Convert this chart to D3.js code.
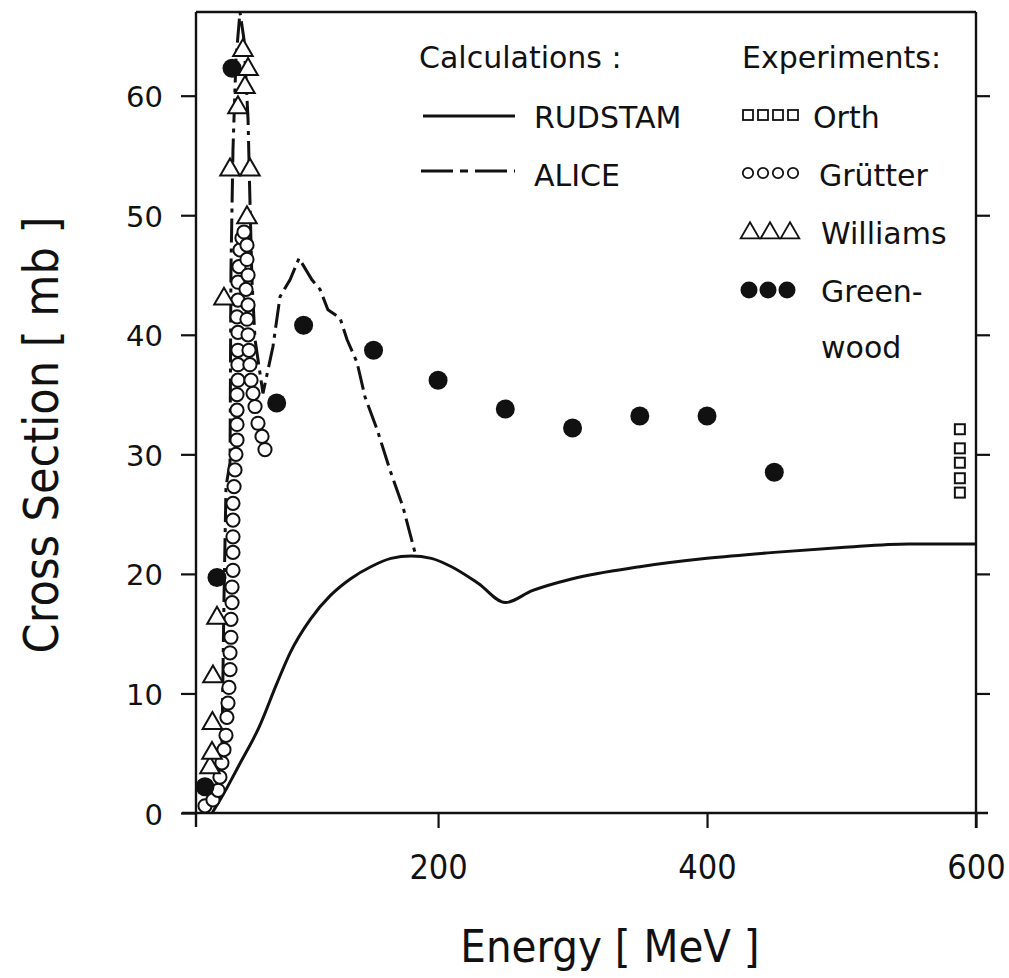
<!DOCTYPE html>
<html>
<head>
<meta charset="utf-8">
<script src="https://cdnjs.cloudflare.com/ajax/libs/d3/7.8.5/d3.min.js"></script>
<style>
  html, body { margin: 0; padding: 0; background: #fff; }
  text { fill: #111; }
</style>
</head>
<body>
<div id="chart"></div>
<script>
'use strict';

// calculations [energy MeV, cross section mb]
var rudstam = [[32, 0], [40, 1.5], [52, 4.0], [67, 7.2], [80, 10.8], [90, 13.4], [105, 16.2],
	[120, 18.2], [135, 19.6], [150, 20.6], [165, 21.3], [180, 21.5], [195, 21.3], [210, 20.6],
	[230, 19.2], [250, 17.6], [270, 18.6], [300, 19.6], [350, 20.6], [400, 21.3], [450, 21.8],
	[500, 22.2], [550, 22.5], [600, 22.5]];

var alice = [[32, 1.0], [36.4, 2.8], [39.3, 5.5], [40.8, 17.8], [42.3, 27.3], [45.3, 29.3],
	[46.0, 45.4], [47.5, 55.5], [49.7, 63.0], [52.7, 67.0], [55.7, 64.7], [58.7, 58.0],
	[60.1, 51.3], [61.6, 44.6], [63.9, 39.6], [69.8, 35.1], [77.2, 39.0], [82.5, 43.2],
	[89.9, 44.6], [96.6, 46.4], [106.2, 44.6], [112.2, 43.8], [118.1, 42.1], [127.1, 41.4],
	[132.3, 39.6], [139.7, 37.7], [145.7, 34.8], [154.6, 32.1], [164.2, 28.7], [173.9, 25.6],
	[182.8, 21.8]];

// experiments
var orth = [[588, 32.1], [588, 30.5], [588, 29.3], [588, 28.0], [588, 26.8]];

var grutter = [[26.7, 0.6], [32.6, 1.1], [36.4, 1.9], [37.8, 3.0], [39.3, 4.2], [40.8, 5.3],
	[42.3, 6.5], [43.0, 8.0], [43.8, 9.2], [44.5, 10.5], [45.3, 12.0], [45.3, 13.4],
	[46.0, 14.7], [46.0, 16.2], [46.8, 17.6], [46.8, 18.9], [47.5, 20.3], [47.5, 21.8],
	[47.5, 23.1], [47.5, 24.5], [47.5, 25.9], [48.3, 27.3], [49.0, 28.7], [49.7, 30.0],
	[50.5, 31.2], [50.5, 32.5], [50.5, 33.7], [50.5, 35.0], [51.2, 36.2], [51.2, 37.5],
	[51.2, 38.7], [51.2, 40.2], [50.5, 41.5], [51.2, 42.9], [51.2, 44.4], [52.0, 45.7],
	[52.7, 47.1], [54.2, 48.1], [55.7, 48.6], [57.9, 47.5], [57.9, 46.3], [58.7, 45.0],
	[57.2, 43.8], [58.7, 42.5], [57.9, 41.3], [58.7, 40.0], [59.4, 38.7], [60.1, 37.5],
	[60.9, 36.2], [62.4, 35.1], [63.9, 34.0], [66.1, 32.6], [69.1, 31.5], [71.3, 30.4]];

var williams = [[30.4, 3.8], [31.9, 5.0], [32.2, 7.5], [32.6, 11.4], [35.6, 16.3],
	[40.8, 43.0], [45.3, 53.8], [60.1, 53.8], [57.9, 49.8], [51.2, 59.0], [56.4, 60.7],
	[58.7, 62.2], [54.9, 63.8]];

var greenwood = [[26.7, 2.2], [35.6, 19.7], [46.8, 62.3], [80, 34.3], [100, 40.8], [152, 38.7],
	[200, 36.2], [250, 33.8], [300, 32.2], [350, 33.2], [400, 33.2], [450, 28.5]];

var yTicks = [0, 10, 20, 30, 40, 50, 60];
var xTicks = [200, 400, 600];

var width = 1009, height = 978;
var narrow = '"DejaVu Sans Condensed", "Liberation Sans Narrow", sans-serif';
var plain = '"DejaVu Sans", sans-serif';

var svg = d3.select('#chart')
	.append('svg')
	.attr('width', width)
	.attr('height', height)
	.style('display', 'block');

svg.append('rect').attr('width', width).attr('height', height).attr('fill', '#fff');

var x = d3.scaleLinear().domain([20, 600]).range([196, 976]);
var y = d3.scaleLinear().domain([0, 67]).range([813, 12]);

// axes
var left = svg.append('g')
	.attr('transform', 'translate(196,0)')
	.call(d3.axisLeft(y).tickValues(yTicks).tickSize(15).tickSizeOuter(0).tickPadding(18));
left.select('.domain').remove();
left.selectAll('line').attr('stroke', '#111').attr('stroke-width', 2.2);
left.selectAll('text')
	.attr('font-family', plain)
	.attr('font-size', 29)
	.attr('dy', '0.38em')
	.style('fill', '#111');

var right = svg.append('g')
	.attr('transform', 'translate(976,0)')
	.call(d3.axisRight(y).tickValues(yTicks.slice(1)).tickSize(14).tickFormat(''));
right.select('.domain').remove();
right.selectAll('line').attr('stroke', '#111').attr('stroke-width', 2.2);

var bottom = svg.append('g')
	.attr('transform', 'translate(0,813)')
	.call(d3.axisBottom(x).tickValues(xTicks).tickSize(15).tickSizeOuter(0).tickPadding(27));
bottom.select('.domain').remove();
bottom.selectAll('line').attr('stroke', '#111').attr('stroke-width', 2.2);
bottom.selectAll('text')
	.attr('font-family', narrow)
	.attr('font-size', 34)
	.style('fill', '#111');

// frame
var frame = svg.append('g').attr('stroke', '#111').attr('stroke-width', 2.4).attr('fill', 'none');
frame.append('line').attr('x1', 196).attr('x2', 196).attr('y1', y(67)).attr('y2', 827);
frame.append('line').attr('x1', 976).attr('x2', 976).attr('y1', y(67)).attr('y2', 828);
frame.append('line').attr('x1', 182).attr('x2', 988).attr('y1', y(0)).attr('y2', y(0));
frame.append('line').attr('x1', 196).attr('x2', 976).attr('y1', y(67)).attr('y2', y(67));

// axis titles
svg.append('text')
	.attr('transform', 'translate(58,435) rotate(-90)')
	.attr('text-anchor', 'middle')
	.attr('font-family', narrow)
	.attr('font-size', 48)
	.text('Cross Section [ mb ]');

svg.append('text')
	.attr('x', 610)
	.attr('y', 962)
	.attr('text-anchor', 'middle')
	.attr('font-family', narrow)
	.attr('font-size', 45)
	.text('Energy [ MeV ]');

// curves
var line = d3.line()
	.x(function (d) { return x(d[0]); })
	.y(function (d) { return y(d[1]); });

svg.append('path')
	.datum(rudstam)
	.attr('d', line.curve(d3.curveMonotoneX))
	.attr('fill', 'none')
	.attr('stroke', '#111')
	.attr('stroke-width', 3);

svg.append('path')
	.datum(alice)
	.attr('d', d3.line().x(function (d) { return x(d[0]); }).y(function (d) { return y(d[1]); }))
	.attr('fill', 'none')
	.attr('stroke', '#111')
	.attr('stroke-width', 3)
	.attr('stroke-dasharray', '24,6,4,6');

// markers
svg.selectAll('rect.orth')
	.data(orth)
	.enter()
	.append('rect')
	.attr('class', 'orth')
	.attr('x', function (d) { return x(d[0]) - 5; })
	.attr('y', function (d) { return y(d[1]) - 5; })
	.attr('width', 10)
	.attr('height', 10)
	.attr('fill', '#fff')
	.attr('stroke', '#111')
	.attr('stroke-width', 2);

svg.selectAll('circle.grutter')
	.data(grutter)
	.enter()
	.append('circle')
	.attr('class', 'grutter')
	.attr('cx', function (d) { return x(d[0]); })
	.attr('cy', function (d) { return y(d[1]); })
	.attr('r', 6.6)
	.attr('fill', '#fff')
	.attr('stroke', '#111')
	.attr('stroke-width', 2);

var tri = d3.symbol().type(d3.symbolTriangle).size(165);

svg.selectAll('path.williams')
	.data(williams)
	.enter()
	.append('path')
	.attr('class', 'williams')
	.attr('d', tri)
	.attr('transform', function (d) { return 'translate(' + x(d[0]) + ',' + y(d[1]) + ')'; })
	.attr('fill', '#fff')
	.attr('stroke', '#111')
	.attr('stroke-width', 2);

svg.selectAll('circle.greenwood')
	.data(greenwood)
	.enter()
	.append('circle')
	.attr('class', 'greenwood')
	.attr('cx', function (d) { return x(d[0]); })
	.attr('cy', function (d) { return y(d[1]); })
	.attr('r', 9.5)
	.attr('fill', '#111');

// legend
var legend = svg.append('g')
	.attr('font-family', plain)
	.attr('font-size', 30);

legend.append('text').attr('x', 419).attr('y', 68).text('Calculations :');
legend.append('line').attr('x1', 423).attr('x2', 515).attr('y1', 116).attr('y2', 116)
	.attr('stroke', '#111').attr('stroke-width', 3);
legend.append('text').attr('x', 534).attr('y', 128).text('RUDSTAM');
legend.append('line').attr('x1', 421).attr('x2', 515).attr('y1', 171).attr('y2', 171)
	.attr('stroke', '#111').attr('stroke-width', 3).attr('stroke-dasharray', '32,7,8,7');
legend.append('text').attr('x', 534).attr('y', 186).text('ALICE');

legend.append('text').attr('x', 742).attr('y', 68).text('Experiments:');

legend.selectAll('rect.lsq')
	.data([0, 1, 2, 3])
	.enter()
	.append('rect')
	.attr('x', function (i) { return 743 + i * 15; })
	.attr('y', 110)
	.attr('width', 10).attr('height', 10)
	.attr('fill', '#fff').attr('stroke', '#111').attr('stroke-width', 1.8);
legend.append('text').attr('x', 813).attr('y', 128).text('Orth');

legend.selectAll('circle.lci')
	.data([0, 1, 2, 3])
	.enter()
	.append('circle')
	.attr('cx', function (i) { return 748 + i * 15; })
	.attr('cy', 173)
	.attr('r', 5.2)
	.attr('fill', '#fff').attr('stroke', '#111').attr('stroke-width', 1.8);
legend.append('text').attr('x', 819).attr('y', 186).text('Grütter');

legend.selectAll('path.ltr')
	.data([0, 1, 2])
	.enter()
	.append('path')
	.attr('d', d3.symbol().type(d3.symbolTriangle).size(150))
	.attr('transform', function (i) { return 'translate(' + (750 + i * 20) + ',233)'; })
	.attr('fill', '#fff').attr('stroke', '#111').attr('stroke-width', 1.8);
legend.append('text').attr('x', 821).attr('y', 244).text('Williams');

legend.selectAll('circle.ldot')
	.data([0, 1, 2])
	.enter()
	.append('circle')
	.attr('cx', function (i) { return 749 + i * 19; })
	.attr('cy', 290)
	.attr('r', 8.5)
	.attr('fill', '#111');
legend.append('text').attr('x', 821).attr('y', 302).text('Green-');
legend.append('text').attr('x', 821).attr('y', 358).text('wood');
</script>
</body>
</html>
